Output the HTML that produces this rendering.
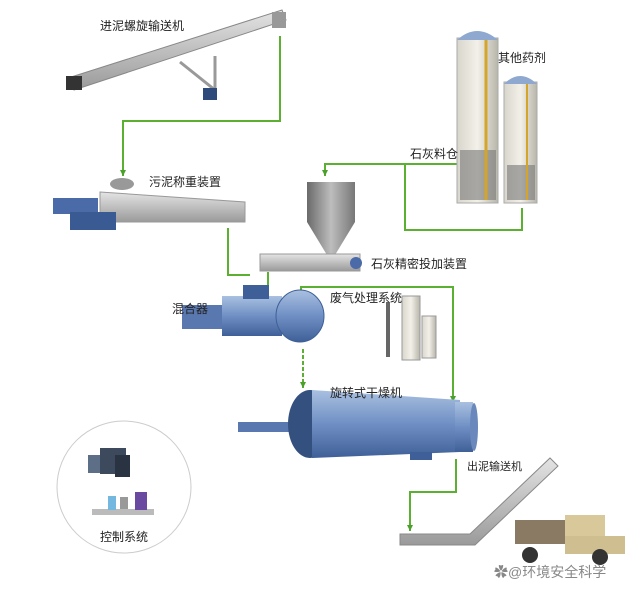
<!DOCTYPE html>
<html><head><meta charset="utf-8"><style>
html,body{margin:0;padding:0;background:#fff;}
svg{display:block;}
text{font-family:"Liberation Sans","Noto Sans CJK SC",sans-serif;font-size:12px;fill:#222;}
</style></head><body>
<svg width="640" height="594" viewBox="0 0 640 594">
<defs>
<linearGradient id="gr" x1="0" y1="0" x2="0" y2="1"><stop offset="0" stop-color="#e4e4e4"/><stop offset="1" stop-color="#9a9a9a"/></linearGradient>
<linearGradient id="bl" x1="0" y1="0" x2="0" y2="1"><stop offset="0" stop-color="#a9c0e0"/><stop offset=".5" stop-color="#6f8fc4"/><stop offset="1" stop-color="#3f5f98"/></linearGradient>
<linearGradient id="si" x1="0" y1="0" x2="1" y2="0"><stop offset="0" stop-color="#d8d6cc"/><stop offset=".5" stop-color="#f2f0e8"/><stop offset="1" stop-color="#b8b6aa"/></linearGradient>
<linearGradient id="hp" x1="0" y1="0" x2="1" y2="0"><stop offset="0" stop-color="#6a6a6a"/><stop offset=".5" stop-color="#bdbdbd"/><stop offset="1" stop-color="#777"/></linearGradient>
<marker id="ar" markerWidth="6" markerHeight="6" refX="6" refY="3" orient="auto" markerUnits="userSpaceOnUse"><path d="M0,0 L6,3 L0,6 z" fill="#4aa02a"/></marker>
</defs>
<g fill="none" stroke="#5bb032" stroke-width="2">
<path d="M280,36 V121 H123 V176" marker-end="url(#ar)"/>
<path d="M228,228 V275 H250"/>
<path d="M460,164 H325 V176" marker-end="url(#ar)"/>
<path d="M405,164 V230 H522 V208"/>
<path d="M268,272 V285"/>
<path d="M301,295 V287 H453 V402" marker-end="url(#ar)"/>
<path d="M303,349 V388" marker-end="url(#ar)" stroke-dasharray="4,2"/>
<path d="M456,459 V492 H410 V531" marker-end="url(#ar)"/>
</g>
<!-- top conveyor -->
<polygon points="68,78 282,10 286,20 74,90" fill="url(#gr)" stroke="#888"/>
<rect x="272" y="12" width="14" height="16" fill="#999"/>
<path d="M180,62 L215,90 L215,56" stroke="#999" stroke-width="3" fill="none"/>
<rect x="66" y="76" width="16" height="14" fill="#333"/>
<rect x="203" y="88" width="14" height="12" fill="#2d4a7a"/>
<text x="100" y="30">进泥螺旋输送机</text>
<!-- silos -->
<rect x="457" y="38" width="41" height="165" fill="url(#si)" stroke="#aaa"/>
<path d="M457,40 Q477,22 498,40 Z" fill="#8ea8cf"/>
<rect x="460" y="150" width="36" height="50" fill="#777" opacity=".6"/>
<line x1="486" y1="40" x2="486" y2="200" stroke="#d4a52a" stroke-width="3"/>
<rect x="504" y="82" width="33" height="121" fill="url(#si)" stroke="#aaa"/>
<path d="M504,84 Q520,68 537,84 Z" fill="#8ea8cf"/>
<rect x="507" y="165" width="28" height="35" fill="#777" opacity=".6"/>
<line x1="527" y1="84" x2="527" y2="200" stroke="#d4a52a" stroke-width="2"/>
<text x="498" y="62">其他药剂</text>
<text x="410" y="158">石灰料仓</text>
<!-- weighing -->
<polygon points="100,192 245,202 245,222 100,222" fill="url(#gr)" stroke="#999"/>
<ellipse cx="122" cy="184" rx="12" ry="6" fill="#999"/>
<rect x="53" y="198" width="45" height="16" fill="#4a6aa8"/>
<rect x="70" y="212" width="46" height="18" fill="#3a5a94"/>
<text x="149" y="186">污泥称重装置</text>
<!-- lime hopper -->
<rect x="307" y="182" width="48" height="40" fill="url(#hp)"/>
<polygon points="307,222 355,222 335,255 327,255" fill="url(#hp)"/>
<rect x="260" y="254" width="100" height="17" fill="url(#gr)" stroke="#999"/>
<circle cx="356" cy="263" r="6" fill="#4a6aa8"/>
<text x="371" y="268">石灰精密投加装置</text>
<!-- mixer -->
<rect x="182" y="305" width="40" height="24" fill="#5a78b0"/>
<rect x="222" y="296" width="60" height="40" fill="url(#bl)"/>
<ellipse cx="300" cy="316" rx="24" ry="26" fill="url(#bl)" stroke="#3f5f98"/>
<rect x="243" y="285" width="26" height="14" fill="#3f5f98"/>
<text x="172" y="313">混合器</text>
<!-- scrubber -->
<rect x="386" y="302" width="4" height="55" fill="#666"/>
<rect x="402" y="296" width="18" height="64" fill="url(#si)" stroke="#999"/>
<rect x="422" y="316" width="14" height="42" fill="url(#si)" stroke="#999"/>
<text x="330" y="302">废气处理系统</text>
<!-- dryer -->
<rect x="238" y="422" width="60" height="10" fill="#5a78b0"/>
<ellipse cx="310" cy="424" rx="22" ry="34" fill="#33507f"/>
<polygon points="312,390 460,400 460,452 312,458" fill="url(#bl)"/>
<rect x="455" y="402" width="18" height="50" fill="url(#bl)"/>
<ellipse cx="474" cy="427" rx="4" ry="24" fill="#6a88bb"/>
<rect x="410" y="452" width="22" height="8" fill="#3f5f98"/>
<text x="330" y="397">旋转式干燥机</text>
<!-- out conveyor -->
<polygon points="400,534 470,534 550,458 558,466 475,545 400,545" fill="url(#gr)" stroke="#888"/>
<text x="467" y="470" style="font-size:11px">出泥输送机</text>
<!-- truck -->
<rect x="515" y="520" width="52" height="24" fill="#8a7a64"/>
<rect x="565" y="515" width="40" height="22" fill="#d8c89a"/>
<rect x="565" y="536" width="60" height="18" fill="#cfbf90"/>
<circle cx="530" cy="555" r="8" fill="#333"/><circle cx="600" cy="557" r="8" fill="#333"/>
<text x="494" y="577" style="font-size:14px;fill:#888">✿@环境安全科学</text>
<!-- control -->
<ellipse cx="124" cy="487" rx="67" ry="66" fill="#fff" stroke="#ccc"/>
<rect x="88" y="455" width="22" height="18" fill="#5d6f86"/>
<rect x="100" y="448" width="26" height="26" fill="#3d4a5e"/>
<rect x="115" y="455" width="15" height="22" fill="#2a3342"/>
<rect x="92" y="509" width="62" height="6" fill="#bbb"/>
<rect x="108" y="496" width="8" height="14" fill="#74b8e0"/>
<rect x="120" y="497" width="8" height="12" fill="#999"/>
<rect x="135" y="492" width="12" height="18" fill="#6a4aa0"/>
<text x="100" y="541">控制系统</text>
</svg>
</body></html>
